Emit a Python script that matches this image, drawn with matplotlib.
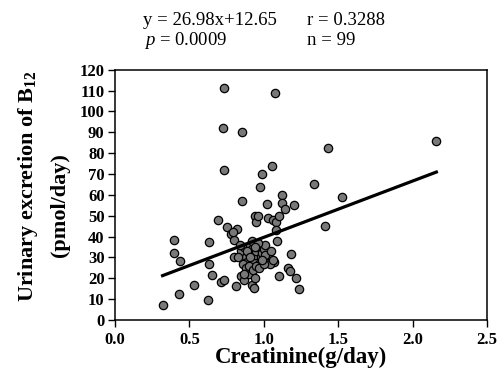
import numpy as np
import matplotlib.pyplot as plt

plt.rcParams.update({
    'font.family': 'Liberation Serif',
    'mathtext.fontset': 'custom',
    'mathtext.rm': 'Liberation Serif',
    'mathtext.it': 'Liberation Serif:italic',
    'mathtext.bf': 'Liberation Serif:bold',
})

# --- creatinine (g/day) vs urinary B12 (pmol/day) ---
creat_outer = [0.32, 0.40, 0.40, 0.44, 0.43, 0.53, 0.63, 0.635, 0.625, 0.655,
               0.69, 0.71, 0.73, 0.73, 0.725, 0.735, 0.75, 0.78, 0.80, 0.82,
               0.79, 0.815, 0.855, 0.855, 0.80, 0.845, 0.87, 0.90, 0.92, 0.935,
               0.94, 0.95, 0.96, 0.975, 0.985, 1.025, 1.055, 1.075, 1.03, 1.06,
               1.08, 1.085, 1.09, 1.12, 1.125, 1.14, 1.20, 1.10, 1.10, 1.07,
               1.18, 1.165, 1.175, 1.22, 1.24, 1.335, 1.41, 1.435, 1.525, 2.16]
b12_outer = [7, 38.5, 32, 28.5, 12.5, 17, 37.5, 27, 9.5, 21.5,
             48, 18, 19, 111, 92, 72, 44.5, 41, 38.5, 43.5,
             42, 16.5, 90, 57, 30, 21, 19, 22, 17, 15.5,
             50, 47, 50, 64, 70, 55.5, 74, 109, 49, 48,
             47, 43, 38, 60, 56, 53, 55, 50, 21, 28,
             31.5, 25, 23.5, 20, 15, 65, 45, 82.5, 59, 86]

# dense cluster around 0.9 g/day, 30 pmol/day
creat_cluster = [0.85, 0.87, 0.88, 0.89, 0.90, 0.91, 0.92, 0.93, 0.94, 0.95,
                 0.96, 0.97, 0.98, 0.99, 1.00, 1.01, 1.02, 1.03, 1.04, 0.86,
                 0.88, 0.90, 0.93, 0.95, 0.97, 1.00, 0.83, 0.84, 0.92, 0.96,
                 1.01, 1.05, 1.06, 0.89, 0.94, 0.99, 0.91, 0.87, 0.94]
b12_cluster = [33, 35, 30, 28, 32, 36, 34, 29, 31, 33,
               35, 27, 30, 32, 34, 36, 29, 31, 27, 27,
               25, 26, 24, 26, 25, 27, 30, 36, 38, 37,
               31, 33, 29, 33, 35, 29, 30, 22, 20]

slope, intercept = 26.98, 12.65

x = np.array(creat_outer + creat_cluster)
y = np.array(b12_outer + b12_cluster)

fig = plt.figure(figsize=(5.02, 3.87), dpi=100)
ax = fig.add_axes([0.229, 0.173, 0.741, 0.647])

ax.scatter(x, y, s=36, facecolor='#787878', edgecolor='black', linewidth=0.9, zorder=3)
xl = np.array([x.min(), x.max()])
ax.plot(xl, slope * xl + intercept, color='black', lw=2.3, zorder=4)

ax.set_xlim(0, 2.5)
ax.set_ylim(0, 120)
ax.set_xticks(np.arange(0, 2.51, 0.5))
ax.set_yticks(np.arange(0, 121, 10))
ax.set_xticklabels([f'{v:.1f}' for v in np.arange(0, 2.51, 0.5)])
for lab in ax.get_xticklabels() + ax.get_yticklabels():
    lab.set_fontweight('bold')
    lab.set_fontsize(12)
ax.tick_params(direction='out', length=5, width=1)
ax.tick_params(axis='y', pad=2.5)
ax.tick_params(axis='x', pad=3.5)
for s in ax.spines.values():
    s.set_linewidth(1.1)

ax.set_xlabel('Creatinine(g/day)', fontsize=16.5, fontweight='bold', labelpad=-1)

# two-line y label, placed by hand
fig.text(0.056, 0.519, 'Urinary excretion of B$_{\\mathbf{12}}$', rotation=90,
         ha='center', va='center', fontsize=16, fontweight='bold')
fig.text(0.120, 0.470, '(pmol/day)', rotation=90,
         ha='center', va='center', fontsize=16, fontweight='bold')

fig.text(0.285, 0.935, 'y = 26.98x+12.65', fontsize=13.5, va='baseline')
fig.text(0.612, 0.935, 'r = 0.3288', fontsize=13.5, va='baseline')
fig.text(0.287, 0.884, '$p$ = 0.0009', fontsize=13.5, va='baseline')
fig.text(0.612, 0.884, 'n = 99', fontsize=13.5, va='baseline')

fig.savefig('out.png', dpi=100)
